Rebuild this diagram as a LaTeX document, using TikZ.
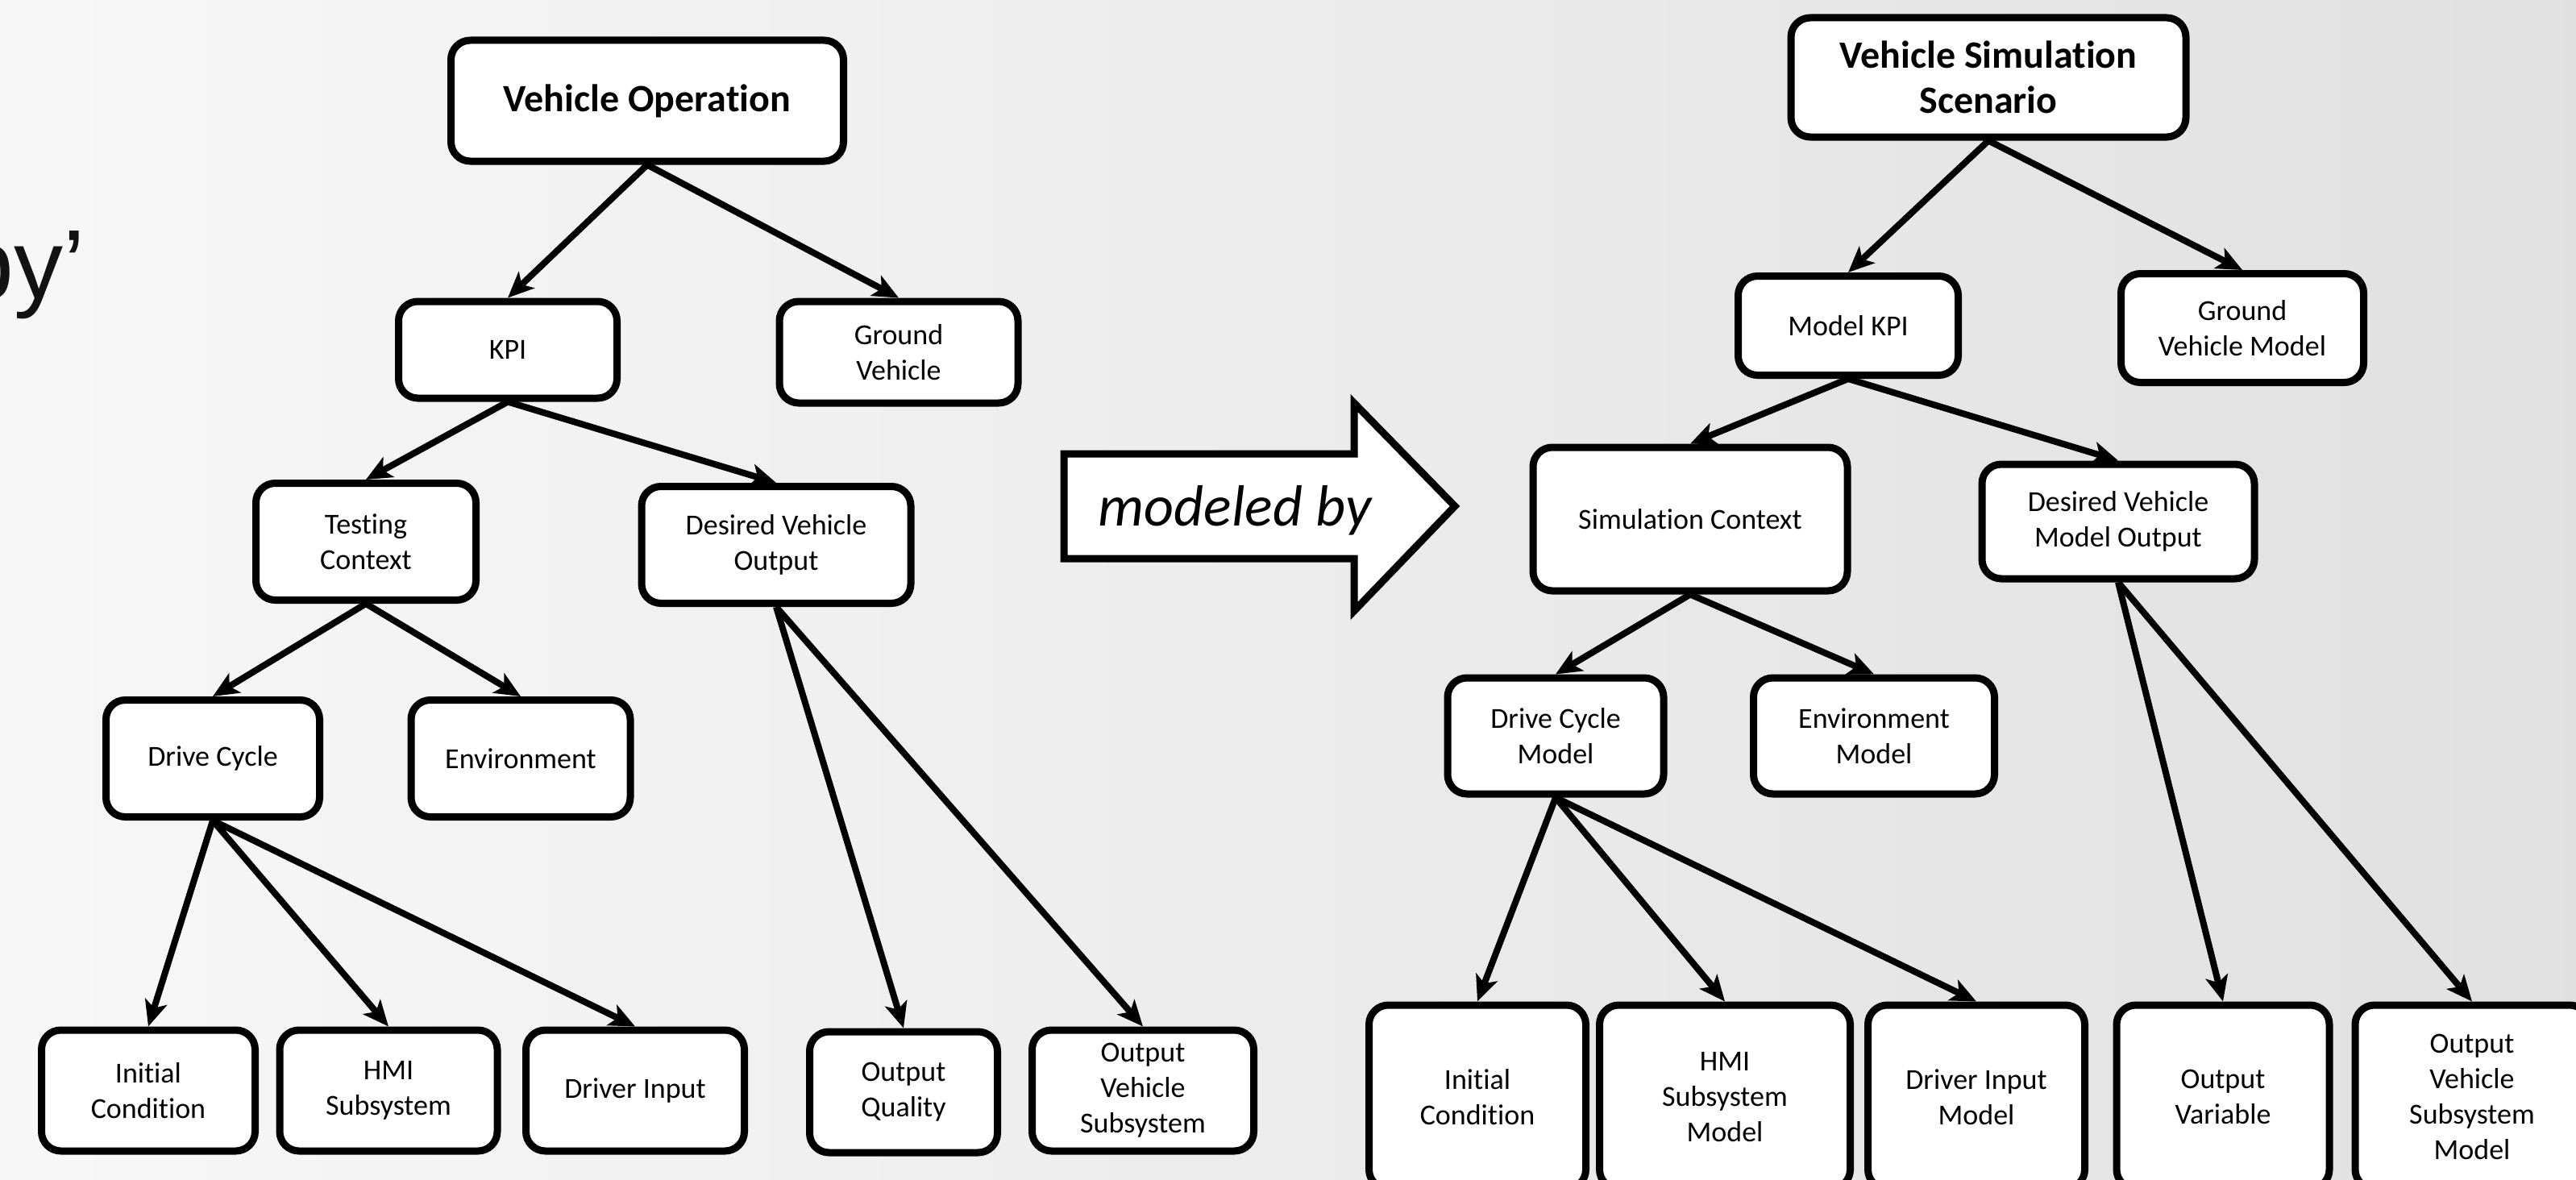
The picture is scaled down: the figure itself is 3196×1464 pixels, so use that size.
\documentclass[tikz,border=0pt]{standalone}
\usepackage{fontspec}
\setmainfont{Carlito}[Ligatures=NoCommon]
\newfontfamily\arialfont{Liberation Sans}
\usetikzlibrary{arrows.meta}
\tikzset{
  box/.style={draw, line width=9pt, rounded corners=24pt, fill=white, align=center,
    inner sep=0pt, font=\fontsize{36}{44}\selectfont},
  titlebox/.style={box, font=\fontsize{48}{56}\selectfont\bfseries},
  conn/.style={line width=8pt, -{Stealth[length=32pt,width=28pt,inset=8pt]}}
}
\begin{document}
\begin{tikzpicture}[x=1pt,y=-1pt]
\useasboundingbox (0,0) rectangle (3196,1464);
\clip (0,0) rectangle (3196,1464);
\fill[left color=white!97!black, right color=black!12] (0,0) rectangle (3196,1464);

% leftover title text
\node[anchor=base east, inner sep=0pt, font=\arialfont\fontsize{122}{140}\selectfont, text=black!93] (by) at (106,370) {by’};

% ---------------- left tree ----------------
\node[titlebox, minimum width=487pt, minimum height=150pt] (vo) at (803,125) {Vehicle Operation};
\node[box, minimum width=271pt, minimum height=120pt] (kpi) at (630,434) {KPI};
\node[box, minimum width=296pt, minimum height=126pt] (gv) at (1115,437) {Ground\\Vehicle};
\node[box, minimum width=273pt, minimum height=145pt] (tc) at (454,672) {Testing\\Context};
\node[box, minimum width=334pt, minimum height=145pt] (dvo) at (963,676) {Desired Vehicle\\Output};
\node[box, minimum width=265pt, minimum height=145pt] (dc) at (264,941) {Drive Cycle};
\node[box, minimum width=272pt, minimum height=145pt] (env) at (646,941) {Environment};
\node[box, minimum width=265pt, minimum height=150pt] (ic) at (184,1353) {Initial\\Condition};
\node[box, minimum width=270pt, minimum height=150pt] (hmi) at (482,1353) {HMI\\Subsystem};
\node[box, minimum width=271pt, minimum height=150pt] (di) at (788,1353) {Driver Input};
\node[box, minimum width=233pt, minimum height=150pt] (oq) at (1121,1355) {Output\\Quality};
\node[box, minimum width=275pt, minimum height=150pt] (ovs) at (1418,1353) {Output\\Vehicle\\Subsystem};

\draw[conn] (vo.south) -- (kpi.north);
\draw[conn] (vo.south) -- (gv.north);
\draw[conn] (kpi.south) -- (tc.north);
\draw[conn] (kpi.south) -- (dvo.north);
\draw[conn] (tc.south) -- (dc.north);
\draw[conn] (tc.south) -- (env.north);
\draw[conn] (dc.south) -- (ic.north);
\draw[conn] (dc.south) -- (hmi.north);
\draw[conn] (dc.south) -- (di.north);
\draw[conn] (dvo.south) -- (oq.north);
\draw[conn] (dvo.south) -- (ovs.north);

% ---------------- modeled by arrow ----------------
\draw[line width=9pt, fill=white, line join=miter]
  (1320,563) -- (1680,563) -- (1680,500) -- (1805,628) -- (1680,758) -- (1680,693) -- (1320,693) -- cycle;
\node[anchor=base, inner sep=0pt, font=\fontsize{72}{80}\selectfont\itshape] (mb) at (1532,652) {modeled by};

% ---------------- right tree ----------------
\node[titlebox, minimum width=490pt, minimum height=148pt] (vss) at (2467,96) {Vehicle Simulation\\Scenario};
\node[box, minimum width=273pt, minimum height=123pt] (mkpi) at (2293,404) {Model KPI};
\node[box, minimum width=301pt, minimum height=135pt] (gvm) at (2782,407) {Ground\\Vehicle Model};
\node[box, minimum width=390pt, minimum height=178pt] (sc) at (2097,644) {Simulation Context};
\node[box, minimum width=338pt, minimum height=142pt] (dvmo) at (2628,647) {Desired Vehicle\\Model Output};
\node[box, minimum width=268pt, minimum height=144pt] (dcm) at (1930,913) {Drive Cycle\\Model};
\node[box, minimum width=299pt, minimum height=144pt] (em) at (2325,913) {Environment\\Model};
\node[box, minimum width=269pt, minimum height=228pt] (ic2) at (1833,1361) {Initial\\Condition};
\node[box, minimum width=311pt, minimum height=228pt] (hmi2) at (2140,1361) {HMI\\Subsystem\\Model};
\node[box, minimum width=269pt, minimum height=228pt] (dim) at (2452,1361) {Driver Input\\Model};
\node[box, minimum width=264pt, minimum height=228pt] (ov) at (2758,1361) {Output\\Variable};
\node[box, minimum width=290pt, minimum height=228pt] (ovsm) at (3067,1361) {Output\\Vehicle\\Subsystem\\Model};

\draw[conn] (vss.south) -- (mkpi.north);
\draw[conn] (vss.south) -- (gvm.north);
\draw[conn] (mkpi.south) -- (sc.north);
\draw[conn] (mkpi.south) -- (dvmo.north);
\draw[conn] (sc.south) -- (dcm.north);
\draw[conn] (sc.south) -- (em.north);
\draw[conn] (dcm.south) -- (ic2.north);
\draw[conn] (dcm.south) -- (hmi2.north);
\draw[conn] (dcm.south) -- (dim.north);
\draw[conn] (dvmo.south) -- (ov.north);
\draw[conn] (dvmo.south) -- (ovsm.north);
\end{tikzpicture}
\end{document}
